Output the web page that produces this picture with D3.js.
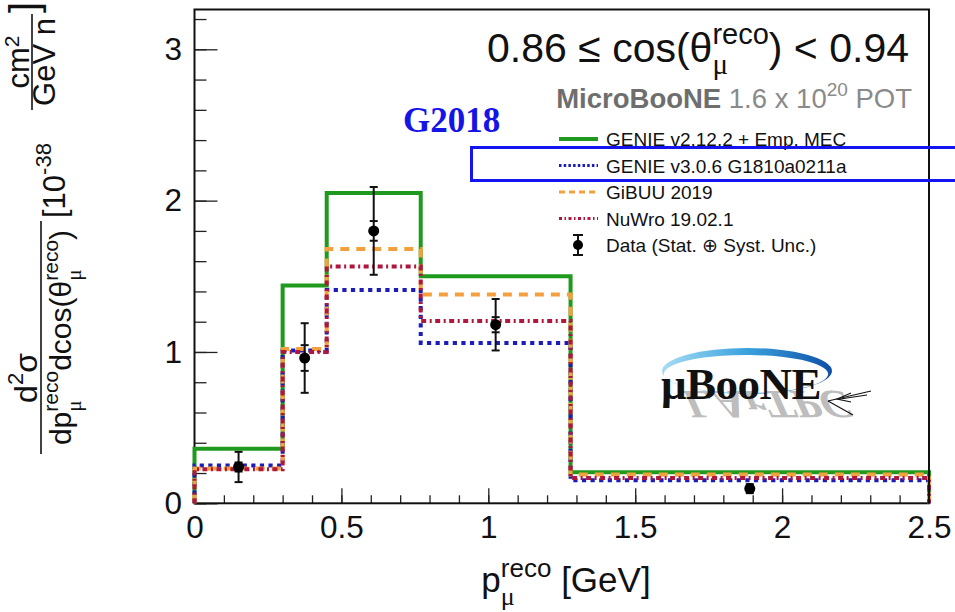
<!DOCTYPE html>
<html>
<head>
<meta charset="utf-8">
<script src="https://cdn.jsdelivr.net/npm/d3@7"></script>
<style>
  html, body { margin: 0; padding: 0; background: #fff; }
  svg { display: block; }
  text { white-space: pre; }
</style>
</head>
<body>
<svg id="chart" width="955" height="612"></svg>
<script>
// Bin edges in reconstructed muon momentum [GeV]
const binEdges = [0, 0.3, 0.45, 0.77, 1.28, 2.5];

// Model predictions per bin [10^-38 cm^2 / GeV / nucleon]
const genieV2 = [0.36, 1.44, 2.05, 1.50, 0.205];
const genieV3 = [0.25, 1.01, 1.41, 1.06, 0.152];
const gibuu   = [0.23, 1.02, 1.68, 1.38, 0.19];
const nuwro   = [0.225, 1.00, 1.565, 1.205, 0.167];

// Measured points
const dataP       = [0.15, 0.375, 0.61, 1.025, 1.89];
const dataXsec    = [0.24, 0.96, 1.80, 1.18, 0.097];
const dataErrTot  = [0.10, 0.23, 0.29, 0.17, 0.03];
const dataErrStat = [0.03, 0.085, 0.065, 0.05, 0.01];

const xTickValues = [0, 0.5, 1, 1.5, 2, 2.5];
const yTickValues = [0, 1, 2, 3];
const legendLabels = [
  "GENIE v2.12.2 + Emp. MEC",
  "GENIE v3.0.6 G1810a0211a",
  "GiBUU 2019",
  "NuWro 19.02.1",
  "Data (Stat. \u2295 Syst. Unc.)"
];

const SANS = "'Liberation Sans', Arial, Helvetica, sans-serif";
const SERIF = "'Liberation Serif', 'Times New Roman', serif";

const colors = { v2: "#1f9a1f", v3: "#1c1cb8", gibuu: "#f4a03c", nuwro: "#b0173c" };
const models = [
  { vals: genieV2, color: colors.v2, dash: null },
  { vals: genieV3, color: colors.v3, dash: "4.2,4.4" },
  { vals: gibuu,   color: colors.gibuu, dash: "9,7" },
  { vals: nuwro,   color: colors.nuwro, dash: "5,3.5,2,3.5" }
];

const svg = d3.select("#chart");
svg.append("rect").attr("width", 955).attr("height", 612).attr("fill", "#fff");

const plot = { left: 194.5, right: 929, top: 9.5, bottom: 503.3 };
const x = d3.scaleLinear().domain([0, 2.5]).range([plot.left, plot.right]);
const y = d3.scaleLinear().domain([0, 3.263]).range([plot.bottom, plot.top]);

// Lays out a run of text pieces; a piece with `stack` puts a superscript
// and a subscript at the same horizontal position.
function richText(parent, pieces, opt) {
  const g = parent.append("g")
    .attr("font-family", opt.family || SANS)
    .attr("fill", opt.fill || "#000");
  let cx = 0;
  for (const p of pieces) {
    const parts = p.stack || [p];
    let w = 0;
    for (const q of parts) {
      const t = g.append("text")
        .attr("x", cx)
        .attr("y", q.dy || 0)
        .attr("font-size", q.size)
        .attr("font-weight", q.weight || null)
        .attr("font-family", q.family || null)
        .attr("fill", q.fill || null)
        .text(q.t);
      w = Math.max(w, t.node().getComputedTextLength());
    }
    cx += w + (p.gap || 0);
  }
  const off = opt.anchor === "end" ? -cx : opt.anchor === "middle" ? -cx / 2 : 0;
  g.attr("transform", `translate(${opt.x + off},${opt.y})`);
  return cx;
}

// ---- axes (ticks point into the frame) ----
const xMinor = d3.range(0, 2.5001, 0.1).map(v => +v.toFixed(2));
svg.append("g")
  .attr("transform", `translate(0,${plot.bottom})`)
  .call(d3.axisBottom(x).tickValues(xMinor).tickSize(-8).tickFormat(""))
  .call(g => g.select(".domain").remove())
  .call(g => g.selectAll("line").attr("stroke", "#222").attr("stroke-width", 1.3));
svg.append("g")
  .attr("transform", `translate(0,${plot.bottom})`)
  .call(d3.axisBottom(x).tickValues(xTickValues).tickSize(-15).tickPadding(12.3)
        .tickFormat(d => String(d)))
  .call(g => g.select(".domain").remove())
  .call(g => g.selectAll("line").attr("stroke", "#222").attr("stroke-width", 1.3))
  .call(g => g.selectAll("text").attr("font-family", SANS).attr("font-size", 31.5).attr("fill", "#111"));

const yMinor = d3.range(0, 3.2601, 0.2).map(v => +v.toFixed(2));
svg.append("g")
  .attr("transform", `translate(${plot.left},0)`)
  .call(d3.axisLeft(y).tickValues(yMinor).tickSize(-12).tickFormat(""))
  .call(g => g.select(".domain").remove())
  .call(g => g.selectAll("line").attr("stroke", "#222").attr("stroke-width", 1.3));
svg.append("g")
  .attr("transform", `translate(${plot.left},0)`)
  .call(d3.axisLeft(y).tickValues(yTickValues).tickSize(-23).tickPadding(12.5)
        .tickFormat(d3.format("d")))
  .call(g => g.select(".domain").remove())
  .call(g => g.selectAll("line").attr("stroke", "#222").attr("stroke-width", 1.3))
  .call(g => g.selectAll("text").attr("font-family", SANS).attr("font-size", 31.5).attr("fill", "#111"));

// ---- frame ----
svg.append("rect")
  .attr("x", plot.left).attr("y", plot.top)
  .attr("width", plot.right - plot.left).attr("height", plot.bottom - plot.top)
  .attr("fill", "none").attr("stroke", "#111").attr("stroke-width", 2);

// ---- logo ----
const logo = svg.append("g");
const defs = svg.append("defs");
const grad = defs.append("linearGradient").attr("id", "swoosh").attr("x1", "0").attr("x2", "1");
grad.append("stop").attr("offset", "0").attr("stop-color", "#a8dcf4");
grad.append("stop").attr("offset", "0.5").attr("stop-color", "#3aa2de");
grad.append("stop").attr("offset", "1").attr("stop-color", "#0d4fa6");
logo.append("path")
  .attr("d", "M662,371 A85,23 0 1,1 832,371 A85,23 0 1,1 662,371 Z " +
             "M664,373 A82,19 0 1,0 828,375 A82,19 0 1,0 664,373 Z")
  .attr("fill", "url(#swoosh)").attr("fill-rule", "evenodd");
logo.append("text")
  .attr("transform", "translate(680,391) scale(1.08,-1) skewX(-22)")
  .attr("font-family", SERIF).attr("font-weight", "bold").attr("font-size", 40)
  .attr("fill", "#bdbdbd")
  .text("LArTPC");
logo.append("text")
  .attr("x", 661).attr("y", 399)
  .attr("font-family", SERIF).attr("font-weight", "bold").attr("font-size", 45)
  .attr("letter-spacing", -0.5)
  .attr("fill", "#111").text("\u03bcBooNE");
const nu = logo.append("g").attr("stroke", "#111").attr("stroke-width", 1.1).attr("fill", "none");
nu.append("line").attr("x1", 828).attr("y1", 401).attr("x2", 871).attr("y2", 391);
nu.append("line").attr("x1", 840).attr("y1", 399).attr("x2", 867).attr("y2", 395);
nu.append("path").attr("d", "M851,393 L837,399 L851,402");
nu.append("line").attr("x1", 828).attr("y1", 401).attr("x2", 853).attr("y2", 415);

// ---- model histograms ----
const stepLine = d3.line().x(d => x(d[0])).y(d => y(d[1])).curve(d3.curveStepAfter);
function histPoints(vals) {
  const pts = [[binEdges[0], 0]];
  vals.forEach((v, i) => pts.push([binEdges[i], v]));
  pts.push([binEdges[binEdges.length - 1], vals[vals.length - 1]]);
  pts.push([binEdges[binEdges.length - 1], 0]);
  return pts;
}
models.forEach(m => {
  svg.append("path")
    .attr("d", stepLine(histPoints(m.vals)))
    .attr("fill", "none")
    .attr("stroke", m.color)
    .attr("stroke-width", 4)
    .attr("stroke-dasharray", m.dash);
});

// right border redrawn on top of the histogram ends
svg.append("line")
  .attr("x1", plot.right).attr("x2", plot.right)
  .attr("y1", plot.top).attr("y2", plot.bottom)
  .attr("stroke", "#111").attr("stroke-width", 2);

// ---- data points ----
const pts = svg.append("g").attr("stroke", "#111").attr("stroke-width", 2);
dataP.forEach((p, i) => {
  const cx = x(p), v = dataXsec[i];
  pts.append("line").attr("x1", cx).attr("x2", cx)
    .attr("y1", y(v - dataErrTot[i])).attr("y2", y(v + dataErrTot[i]));
  [v - dataErrTot[i], v + dataErrTot[i], v - dataErrStat[i], v + dataErrStat[i]].forEach(e => {
    pts.append("line").attr("x1", cx - 4).attr("x2", cx + 4).attr("y1", y(e)).attr("y2", y(e));
  });
  pts.append("circle").attr("cx", cx).attr("cy", y(v)).attr("r", 5.5)
    .attr("fill", "#000").attr("stroke", "none");
});

// ---- header texts ----
richText(svg, [
  { t: "0.86 \u2264 cos(\u03b8", size: 41 },
  { stack: [{ t: "reco", size: 29, dy: -18 }, { t: "\u03bc", size: 29, dy: 12, family: SERIF }] },
  { t: ") < 0.94", size: 41 }
], { x: 909, y: 62, anchor: "end", fill: "#111" });

richText(svg, [
  { t: "MicroBooNE", size: 27.5, weight: "bold", fill: "#6e6e6e" },
  { t: " 1.6 x 10", size: 27.5, fill: "#8a8a8a" },
  { t: "20", size: 19, dy: -12, fill: "#8a8a8a" },
  { t: " POT", size: 27.5, fill: "#8a8a8a" }
], { x: 912, y: 108, anchor: "end" });

// ---- legend ----
const legendRows = [139, 165.5, 192, 218.5, 245];
const lg = svg.append("g");
models.forEach((m, i) => {
  lg.append("line")
    .attr("x1", 559).attr("x2", 598)
    .attr("y1", legendRows[i]).attr("y2", legendRows[i])
    .attr("stroke", m.color).attr("stroke-width", i === 0 ? 4 : 3)
    .attr("stroke-dasharray", i === 1 ? "2.5,2.2" : i === 2 ? "6,4" : i === 3 ? "3,2.5,1.5,2.5" : null);
});
{
  const ly = legendRows[4];
  const g = lg.append("g").attr("stroke", "#111").attr("stroke-width", 2);
  g.append("line").attr("x1", 578).attr("x2", 578).attr("y1", ly - 10).attr("y2", ly + 10);
  g.append("line").attr("x1", 573).attr("x2", 583).attr("y1", ly - 10).attr("y2", ly - 10);
  g.append("line").attr("x1", 573).attr("x2", 583).attr("y1", ly + 10).attr("y2", ly + 10);
  g.append("circle").attr("cx", 578).attr("cy", ly).attr("r", 5).attr("fill", "#000").attr("stroke", "none");
}
legendLabels.forEach((lab, i) => {
  lg.append("text")
    .attr("x", 606).attr("y", legendRows[i] + 7)
    .attr("font-family", SANS).attr("font-size", 19).attr("fill", "#111")
    .text(lab);
});

// ---- tune annotation ----
svg.append("text")
  .attr("x", 403).attr("y", 132)
  .attr("font-family", SERIF).attr("font-weight", "bold").attr("font-size", 35)
  .attr("fill", "#1414e6").text("G2018");
svg.append("rect")
  .attr("x", 471.5).attr("y", 147.5).attr("width", 500).attr("height", 33)
  .attr("fill", "none").attr("stroke", "#1414f0").attr("stroke-width", 3);

// ---- x axis title ----
richText(svg, [
  { t: "p", size: 35 },
  { stack: [{ t: "reco", size: 26, dy: -15 }, { t: "\u03bc", size: 26, dy: 13, family: SERIF }] },
  { t: " [GeV]", size: 35 }
], { x: 566, y: 592, anchor: "middle", fill: "#111" });

// ---- y axis title (rotated; u runs up the page, v runs to the right) ----
const yl = svg.append("g").attr("transform", "rotate(-90)");
richText(yl, [
  { t: "d", size: 32 },
  { t: "2", size: 22, dy: -14 },
  { t: "\u03c3", size: 32 }
], { x: -378, y: 37, anchor: "middle", fill: "#111" });
yl.append("line").attr("x1", -454).attr("x2", -221).attr("y1", 41).attr("y2", 41)
  .attr("stroke", "#111").attr("stroke-width", 1.6);
richText(yl, [
  { t: "dp", size: 30 },
  { stack: [{ t: "reco", size: 21, dy: -13 }, { t: "\u03bc", size: 21, dy: 10, family: SERIF }] },
  { t: "dcos(\u03b8", size: 30 },
  { stack: [{ t: "reco", size: 21, dy: -13 }, { t: "\u03bc", size: 21, dy: 10, family: SERIF }] },
  { t: ")", size: 30 }
], { x: -337.5, y: 71, anchor: "middle", fill: "#111" });
richText(yl, [
  { t: "[10", size: 31 },
  { t: "-38", size: 22, dy: -14 }
], { x: -218, y: 65, anchor: "start", fill: "#111" });
richText(yl, [
  { t: "cm", size: 31 },
  { t: "2", size: 21, dy: -10 }
], { x: -62, y: 29, anchor: "middle", fill: "#111" });
yl.append("line").attr("x1", -110).attr("x2", -14).attr("y1", 32).attr("y2", 32)
  .attr("stroke", "#111").attr("stroke-width", 1.6);
richText(yl, [{ t: "GeV n", size: 31 }], { x: -62, y: 55, anchor: "middle", fill: "#111" });
yl.append("text").attr("x", -13).attr("y", 38)
  .attr("font-family", SANS).attr("font-size", 40).attr("fill", "#111").text("]");
</script>
</body>
</html>
